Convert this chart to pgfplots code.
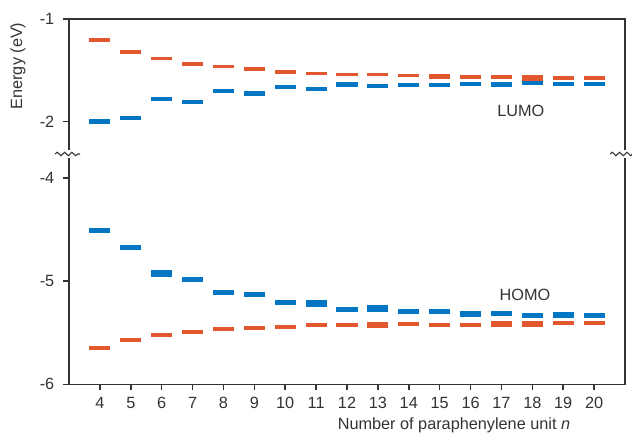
\documentclass[border=0pt]{standalone}
\usepackage{pgfplots}
\pgfplotsset{compat=1.18}
\usepackage{fontspec}
\setmainfont{Liberation Sans}
\usetikzlibrary{decorations.pathmorphing}
\definecolor{mblue}{RGB}{0,118,196}
\definecolor{morange}{RGB}{226,88,46}
\definecolor{axgray}{RGB}{51,51,51}
\pgfplotsset{
  lev/.style={only marks, mark=-, mark size=7.9pt, mark options={solid, line width=#1}},
  base/.style={scale only axis, width=417pt, xmin=3, xmax=21,
    /pgf/number format/assume math mode=true,
    axis line style={draw=none}, tick align=outside, major tick length=4.5pt,
    tick style={axgray, line width=1.1pt},
    ticklabel style={font=\fontsize{12.2}{14}\selectfont, text=axgray},
    font=\fontsize{12.2}{14}\selectfont,
    clip=false, ytick pos=left, xtick pos=bottom,
    yticklabel style={xshift=-3pt}, xticklabel style={yshift=-1.5pt}}
}
\begin{document}
\begin{tikzpicture}
\path[use as bounding box] (0,0) rectangle (474pt,325.5pt);
% ---------- top panel (LUMO) ----------
\begin{axis}[base, at={(51.75pt,210pt)}, anchor=south west, height=101.25pt,
  ymin=-2.3145, ymax=-1, ytick={-2,-1}, yticklabels={-2,-1}, xtick=\empty,
  ylabel={Energy (eV)},
  ylabel style={at={(axis description cs:-0.0917,0.652)}, anchor=center, text=axgray}]
% LUMO orange
\addplot[lev=2.8pt, color=morange] coordinates {
 (4,-1.207) (5,-1.320) (6,-1.385) (7,-1.436) (8,-1.462) (9,-1.489) (10,-1.516)
 (11,-1.530) (12,-1.540) (13,-1.540) (14,-1.550) (16,-1.563) (17,-1.563)
 (19,-1.577) (20,-1.577)};
\addplot[lev=4pt, color=morange] coordinates {(15,-1.557) (18,-1.573)};
% LUMO blue
\addplot[lev=3pt, color=mblue] coordinates {
 (5,-1.961) (6,-1.782) (7,-1.811) (8,-1.704) (10,-1.665) (11,-1.685)
 (13,-1.652) (14,-1.643) (15,-1.643) (16,-1.630) (18,-1.625) (19,-1.630) (20,-1.630)};
\addplot[lev=4pt, color=mblue] coordinates {(4,-1.996) (9,-1.727) (12,-1.638) (17,-1.636)};
\node[text=axgray] at (axis cs:17.63,-1.896) {LUMO};
\end{axis}
% ---------- bottom panel (HOMO) ----------
\begin{axis}[base, at={(51.75pt,37.275pt)}, anchor=south west, height=172.725pt,
  ymin=-6, ymax=-3.7673, ytick={-6,-5,-4}, yticklabels={-6,-5,-4},
  xtick={4,5,...,20},
  xlabel={Number of paraphenylene unit \textit{n}},
  xlabel style={at={(axis description cs:0.6924,-0.1963)}, anchor=base, text=axgray}]
% HOMO blue
\addplot[lev=3.8pt, color=mblue] coordinates {
 (4,-4.507) (5,-4.672) (7,-4.982) (8,-5.108) (9,-5.134) (10,-5.207)
 (12,-5.273) (14,-5.298) (15,-5.298) (17,-5.314) (18,-5.336) (20,-5.336)};
\addplot[lev=4.5pt, color=mblue] coordinates {(16,-5.317) (19,-5.331)};
\addplot[lev=5pt, color=mblue] coordinates {(6,-4.925) (11,-5.215) (13,-5.266)};
% HOMO orange
\addplot[lev=3pt, color=morange] coordinates {
 (4,-5.648) (5,-5.571) (6,-5.519) (7,-5.493) (8,-5.467) (9,-5.457) (10,-5.443)
 (11,-5.430) (12,-5.430) (14,-5.420) (15,-5.424) (16,-5.424) (19,-5.409) (20,-5.409)};
\addplot[lev=4pt, color=morange] coordinates {(13,-5.424) (17,-5.417) (18,-5.417)};
\node[text=axgray] at (axis cs:17.76,-5.134) {HOMO};
\end{axis}
% frame with axis break
\draw[axgray, line width=1.1pt] (51.75pt,213pt) -- (51.75pt,311.25pt) -- (468.75pt,311.25pt) -- (468.75pt,213pt);
\draw[axgray, line width=1.1pt] (51.75pt,207pt) -- (51.75pt,37.275pt) -- (468.75pt,37.275pt) -- (468.75pt,207pt);
\draw[axgray, line width=0.8pt, decorate, decoration={snake, amplitude=1.3pt, segment length=5.5pt}] (41.25pt,210pt) -- (60pt,210pt);
\draw[axgray, line width=0.8pt, decorate, decoration={snake, amplitude=1.3pt, segment length=5.5pt}] (457.5pt,210pt) -- (480pt,210pt);
\end{tikzpicture}
\end{document}
